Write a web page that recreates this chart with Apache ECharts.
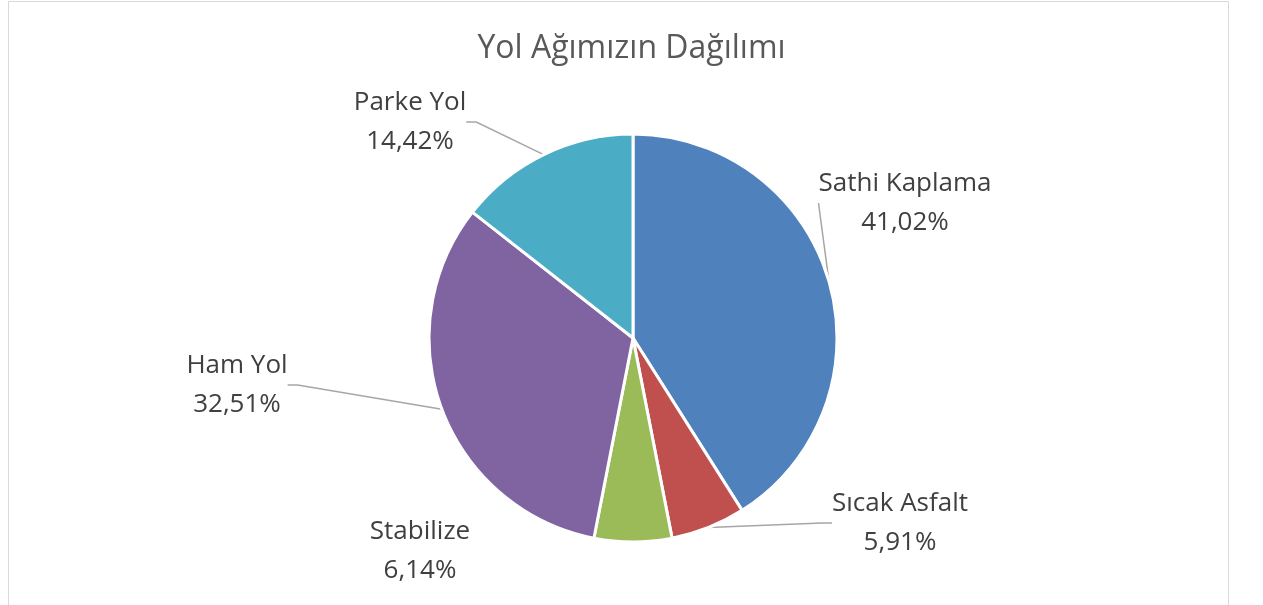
<!DOCTYPE html>
<html>
<head>
<meta charset="utf-8">
<script src="https://cdn.jsdelivr.net/npm/echarts@6/dist/echarts.min.js"></script>
<style>
  html, body { margin: 0; padding: 0; background: #fff; }
  #main { width: 1263px; height: 605px; }
</style>
</head>
<body>
<div id="main"></div>
<script>
const titleText = 'Yol Ağımızın Dağılımı';
const categories = ['Sathi Kaplama', 'Sıcak Asfalt', 'Stabilize', 'Ham Yol', 'Parke Yol'];
const shares = [41.02, 5.91, 6.14, 32.51, 14.42];
const colors = ['#4f81bd', '#c0504d', '#9bbb59', '#8064a2', '#4bacc6'];

// label anchor spots (centre of each two-line label), Excel style
const labelSpots = [[905, 203], [900, 523], [420, 551], [237, 385], [410, 122]];

const chart = echarts.init(document.getElementById('main'));

const option = {
  color: colors,
  animation: false,
  title: {
    text: titleText,
    left: 'center',
    top: 28,
    textStyle: { fontFamily: 'Open Sans', fontSize: 32, fontWeight: 'normal', color: '#595959' }
  },
  graphic: [{
    type: 'rect',
    shape: { x: 8.5, y: 1.5, width: 1220, height: 640 },
    style: { fill: 'none', stroke: '#d9d9d9', lineWidth: 1 },
    silent: true
  }],
  series: [{
    type: 'pie',
    center: [633, 338],
    radius: 204,
    startAngle: 90,
    clockwise: true,
    itemStyle: { borderColor: '#fff', borderWidth: 3 },
    label: {
      show: true,
      position: 'outside',
      fontFamily: 'Open Sans',
      fontSize: 26,
      lineHeight: 39,
      color: '#404040',
      align: 'center',
      formatter: p => p.name + '\n' + p.value.toFixed(2).replace('.', ',') + '%'
    },
    labelLine: {
      show: true,
      length: 10,
      length2: 10,
      lineStyle: { color: '#a6a6a6', width: 1.5 }
    },
    labelLayout: p => ({
      x: labelSpots[p.dataIndex][0],
      y: labelSpots[p.dataIndex][1],
      align: 'center',
      verticalAlign: 'middle'
    }),
    data: categories.map((c, i) => ({
      name: c,
      value: shares[i],
      labelLine: { show: i !== 2 }
    }))
  }]
};

chart.setOption(option);
</script>
</body>
</html>
